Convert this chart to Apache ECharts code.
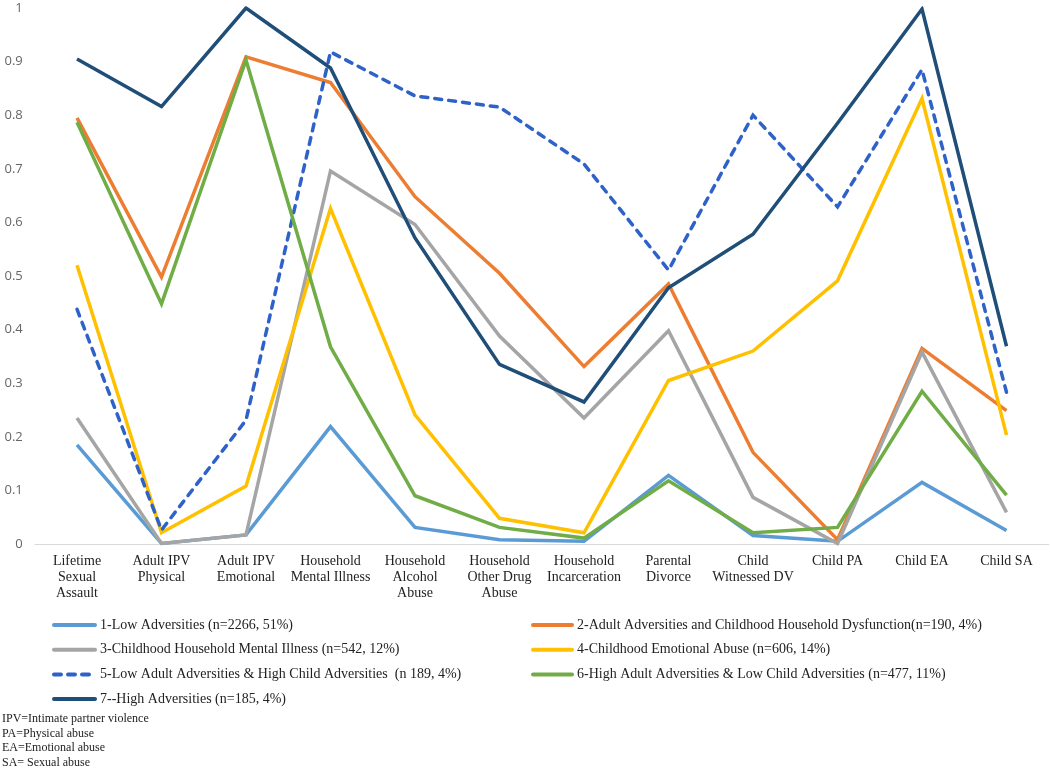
<!DOCTYPE html>
<html>
<head>
<meta charset="utf-8">
<script src="https://cdn.jsdelivr.net/npm/echarts@6/dist/echarts.min.js"></script>
<style>html,body{margin:0;padding:0;background:#fff}#c{width:1050px;height:769px}</style>
</head>
<body>
<div id="c"></div>
<script>
const categories = ["Lifetime\nSexual\nAssault","Adult IPV\nPhysical","Adult IPV\nEmotional","Household\nMental Illness","Household\nAlcohol\nAbuse","Household\nOther Drug\nAbuse","Household\nIncarceration","Parental\nDivorce","Child\nWitnessed DV","Child PA","Child EA","Child SA"];
const yTicks = [0,0.1,0.2,0.3,0.4,0.5,0.6,0.7,0.8,0.9,1];

const names = [
  "1-Low Adversities (n=2266, 51%)",
  "2-Adult Adversities and Childhood Household Dysfunction(n=190, 4%)",
  "3-Childhood Household Mental Illness (n=542, 12%)",
  "4-Childhood Emotional Abuse (n=606, 14%)",
  "5-Low Adult Adversities & High Child Adversities  (n 189, 4%)",
  "6-High Adult Adversities & Low Child Adversities (n=477, 11%)",
  "7--High Adversities (n=185, 4%)"
];
const s1 = [0.185,0.001,0.017,0.219,0.031,0.008,0.005,0.128,0.016,0.005,0.115,0.025];
const s2 = [0.795,0.498,0.909,0.861,0.648,0.505,0.331,0.485,0.171,0.008,0.365,0.249];
const s3 = [0.235,0.001,0.017,0.696,0.596,0.388,0.235,0.398,0.087,0.001,0.358,0.059];
const s4 = [0.520,0.021,0.108,0.626,0.241,0.048,0.021,0.305,0.360,0.491,0.831,0.203];
const s5 = [0.438,0.026,0.231,0.918,0.836,0.815,0.709,0.511,0.800,0.629,0.885,0.283];
const s6 = [0.787,0.448,0.903,0.368,0.090,0.031,0.011,0.118,0.021,0.031,0.285,0.091];
const s7 = [0.905,0.816,1.000,0.888,0.571,0.335,0.265,0.478,0.578,0.785,0.998,0.369];
const colors = ["#5B9BD5","#ED7D31","#A5A5A5","#FFC000","#2F62C8","#70AD47","#1F4E79"];
const seriesData = [s1,s2,s3,s4,s5,s6,s7];
const notes = ["IPV=Intimate partner violence","PA=Physical abuse","EA=Emotional abuse","SA= Sexual abuse"];

const serif = "'Liberation Serif','Times New Roman',serif";
const chart = echarts.init(document.getElementById('c'), null, {renderer:'canvas'});
const series = seriesData.map((d,i)=>({
  name: names[i], type:'line', data:d, symbol:'none', smooth:false,
  lineStyle:{color:colors[i], width:3.5, cap: i===4 ? 'round' : 'butt', join:'miter',
    type: i===4 ? [7,7] : 'solid'},
  itemStyle:{color:colors[i]}, z: 2+i
}));
const legendCommon = {orient:'vertical', padding:0, itemHeight:14, itemGap:10.7,
  textStyle:{fontFamily:serif, fontSize:14, color:'#222'}, selectedMode:false,
  itemStyle:{opacity:0, borderWidth:0},
  lineStyle:{width:4, cap:'round'}};
chart.setOption({
  animation:false,
  color: colors,
  grid:{left:34.75, right:1.25, top:8, bottom:225, containLabel:false},
  xAxis:{type:'category', data:categories, boundaryGap:true,
    axisLine:{show:true, lineStyle:{color:'#D9D9D9', width:1}},
    axisTick:{show:false},
    axisLabel:{interval:0, fontFamily:serif, fontSize:14, color:'#222', lineHeight:16, margin:9}},
  yAxis:{type:'value', min:0, max:1, interval:0.1,
    axisLine:{show:false}, axisTick:{show:false}, splitLine:{show:false},
    axisLabel:{fontFamily:"'Open Sans','DejaVu Sans',sans-serif", fontSize:13, color:'#666', margin:12,
      formatter:(v)=>{const t=yTicks.find(x=>Math.abs(x-v)<1e-9);return t===undefined?'':String(t);}}},
  legend:[
    Object.assign({left:52, top:618, itemWidth:41, data:[names[0],names[2],names[4],names[6]]}, legendCommon),
    Object.assign({left:531, top:618, itemWidth:39, data:[names[1],names[3],names[5]]}, legendCommon)
  ],
  graphic: notes.map((t,i)=>({type:'text', left:2, top:712.5+i*14.9,
    style:{text:t, font:"12px "+serif, fill:'#222'}})),
  series: series
});
</script>
</body>
</html>
